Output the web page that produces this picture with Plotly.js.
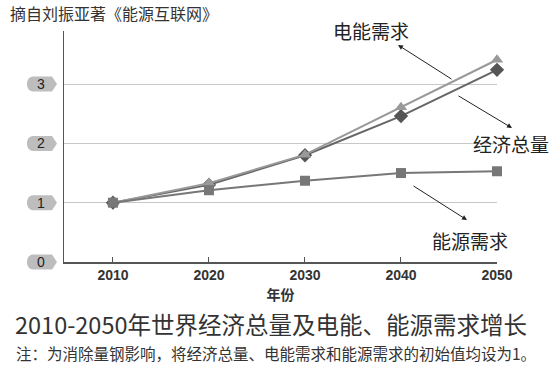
<!DOCTYPE html>
<html><head><meta charset="utf-8">
<script src="https://cdn.plot.ly/plotly-3.0.1.min.js"></script>
<style>html,body{margin:0;padding:0;background:#fff}#c{width:554px;height:366px}</style>
</head><body><div id="c"></div>
<script>
const years = [2010, 2020, 2030, 2040, 2050];
const economy = [1, 1.30, 1.80, 2.46, 3.24];
const electricity = [1, 1.33, 1.81, 2.61, 3.41];
const energy = [1, 1.21, 1.37, 1.50, 1.53];
const yTickVals = [0, 1, 2, 3];
const yTickText = ['0', '1', '2', '3'];
const seriesNames = ['经济总量', '电能需求', '能源需求'];

const L = 64, R = 497, T = 31, B = 262, Wd = 554, Ht = 366;
const PW = R - L, PH = B - T;
const yMax = 3.895;
const px = x => (x - L) / PW;
const py = y => (B - y) / PH;
const font = '"Noto Sans CJK SC", "Noto Sans", sans-serif';

const traces = [
  {x: years, y: economy, name: seriesNames[0], mode: 'lines+markers', cliponaxis: false,
   line: {color: '#666', width: 2}, marker: {symbol: 'diamond', size: 11, color: '#555'}},
  {x: years, y: electricity, name: seriesNames[1], mode: 'lines+markers', cliponaxis: false,
   line: {color: '#999', width: 2}, marker: {symbol: 'triangle-up', size: 11, color: '#999'}},
  {x: years, y: energy, name: seriesNames[2], mode: 'lines+markers', cliponaxis: false,
   line: {color: '#777', width: 2}, marker: {symbol: 'square', size: 10, color: '#777'}}
];

const shapes = [];
const annotations = [];
yTickVals.forEach((v, i) => {
  const cy = B - v / yMax * PH;
  const x0 = 27, x1 = 57, h = 7.5;
  const p = (X, Y) => px(X).toFixed(4) + ',' + py(Y).toFixed(4);
  const path = 'M' + p(x0 + 6, cy - h) + ' L' + p(x1 - 5, cy - h) + ' L' + p(x1, cy) + ' L' + p(x1 - 5, cy + h) +
    ' L' + p(x0 + 6, cy + h) + ' C' + p(x0 - 2, cy + h) + ' ' + p(x0 - 2, cy - h) + ' ' + p(x0 + 6, cy - h) + ' Z';
  shapes.push({type: 'path', xref: 'paper', yref: 'paper', path: path, fillcolor: '#bdbdbd', line: {width: 0}, layer: 'above'});
  annotations.push({xref: 'paper', yref: 'paper', x: px(41), y: py(cy), text: yTickText[i], showarrow: false,
    font: {family: 'Liberation Sans, Arial', size: 14, color: '#222'}, xanchor: 'center', yanchor: 'middle'});
});

const lab = (text, cx, cy) => ({xref: 'paper', yref: 'paper', x: px(cx), y: py(cy), text: text, showarrow: false,
  font: {family: font, size: 19, color: '#222'}, xanchor: 'center', yanchor: 'middle'});
annotations.push(lab('电能需求', 371, 30));
annotations.push(lab('经济总量', 511, 143));
annotations.push(lab('能源需求', 470, 240));
const arr = (hx, hy, tx, ty) => ({xref: 'paper', yref: 'paper', x: px(hx), y: py(hy), ax: tx - hx, ay: ty - hy,
  text: '', showarrow: true, arrowhead: 2, arrowsize: 1, arrowwidth: 1, arrowcolor: '#222'});
annotations.push(arr(398, 45, 453, 80));
annotations.push(arr(512, 128, 457, 95));
annotations.push(arr(467, 220, 412, 185));

annotations.push({xref: 'paper', yref: 'paper', x: px(8), y: py(13), text: '摘自刘振亚著《能源互联网》', showarrow: false,
  xanchor: 'left', yanchor: 'middle', font: {family: font, size: 16, color: '#333'}});
annotations.push({xref: 'paper', yref: 'paper', x: px(13), y: py(324), text: '2010-2050年世界经济总量及电能、能源需求增长', showarrow: false,
  xanchor: 'left', yanchor: 'middle', font: {family: font, size: 23.5, color: '#333'}});
annotations.push({xref: 'paper', yref: 'paper', x: px(14), y: py(353), text: '注：为消除量钢影响，将经济总量、电能需求和能源需求的初始值均设为1。', showarrow: false,
  xanchor: 'left', yanchor: 'middle', font: {family: font, size: 15.5, color: '#333'}});

const layout = {
  width: Wd, height: Ht, margin: {l: L, r: Wd - R, t: T, b: Ht - B},
  paper_bgcolor: '#fff', plot_bgcolor: '#fff', showlegend: false,
  xaxis: {range: [2004.9, 2050], tickvals: years, ticktext: years.map(String), showgrid: false,
    showline: true, linecolor: '#555', linewidth: 1.5, ticks: 'inside', ticklen: 5, tickcolor: '#555',
    tickfont: {family: 'Liberation Sans, Arial', size: 14, color: '#333', weight: 'bold'},
    title: {text: '<b>年份</b>', font: {family: font, size: 14, color: '#333'}, standoff: 8}, zeroline: false},
  yaxis: {range: [0, yMax], tickvals: yTickVals, showticklabels: false, showgrid: true, gridcolor: '#c8c8c8',
    gridwidth: 1, showline: true, linecolor: '#555', linewidth: 1.5, zeroline: false, ticks: ''},
  shapes: shapes, annotations: annotations
};
Plotly.newPlot('c', traces, layout, {displayModeBar: false, staticPlot: true});
</script></body></html>
